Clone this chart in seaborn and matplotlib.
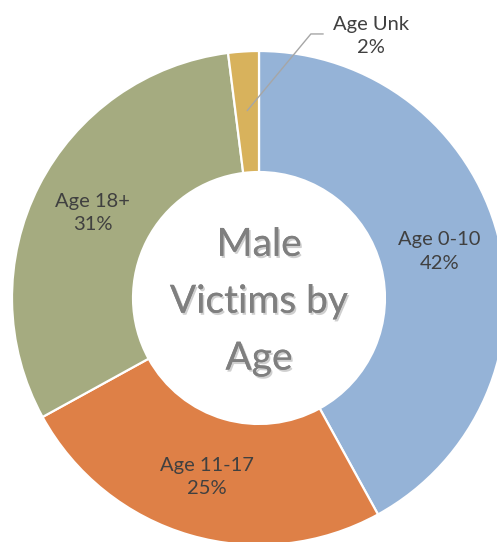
import matplotlib
matplotlib.use("Agg")
import numpy as np
import matplotlib.pyplot as plt
import matplotlib.patheffects as pe
import seaborn as sns

# chart data
categories = ["Age 0-10", "Age 11-17", "Age 18+", "Age Unk"]
shares = [42, 25, 31, 2]
slice_colors = ["#95B3D7", "#DE8047", "#A5AB80", "#D8B25C"]
center_title = "Male\nVictims by\nAge"

sns.set_theme(style="white")
plt.rcParams["font.family"] = ["Lato", "DejaVu Sans"]

fig = plt.figure(figsize=(4.97, 5.42), dpi=100)
ax = fig.add_axes([0, 0, 1, 1])

palette = sns.color_palette(slice_colors)
wedges, _ = ax.pie(
    shares,
    colors=palette,
    startangle=90,
    counterclock=False,
    radius=1.0,
    wedgeprops=dict(width=0.49, edgecolor="white", linewidth=1.6),
    frame=False,
)
# radius = 1 unit ~ 247 px, centre at (259, 298) px from top-left
ax.set_aspect("auto")
ax.set_xlim(-259 / 247, (497 - 259) / 247)
ax.set_ylim(-(542 - 298) / 247, 298 / 247)
ax.set_axis_off()

text_color = "#404040"
label_size = 14.5
for w, cat, val in zip(wedges, categories, shares):
    mid = np.deg2rad((w.theta1 + w.theta2) / 2)
    if cat == "Age Unk":
        # small slice: label outside with a leader line
        ax.plot([0.76 * np.cos(mid), 0.21, 0.26],
                [0.76 * np.sin(mid), 1.069, 1.069],
                color="#A6A6A6", lw=1.0)
        ax.text(0.455, 1.062, f"{cat}\n{val}%", ha="center", va="center",
                fontsize=label_size, color=text_color, linespacing=1.45)
        continue
    r = 0.755
    ax.text(r * np.cos(mid), r * np.sin(mid), f"{cat}\n{val}%",
            ha="center", va="center", fontsize=label_size, color=text_color,
            linespacing=1.45)

ax.text(0.0, -0.015, center_title, ha="center", va="center", fontsize=28,
        color="#7F7F7F", linespacing=1.72,
        path_effects=[pe.withSimplePatchShadow(offset=(1.2, -1.5),
                                                shadow_rgbFace="#888888",
                                                alpha=0.4),
                      pe.Normal()])

fig.savefig("out.png", dpi=100)
